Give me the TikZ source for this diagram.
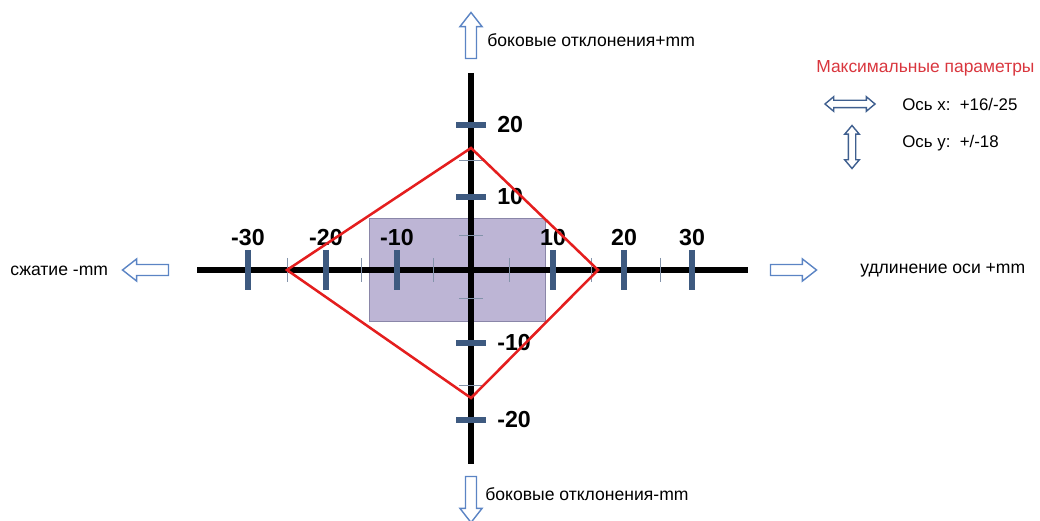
\documentclass[tikz,border=0pt]{standalone}
\usepackage{fontspec}
\setmainfont{Liberation Sans}
\usetikzlibrary{shapes.arrows}
\definecolor{tickblue}{HTML}{3E5A80}
\definecolor{minorgray}{HTML}{8393AA}
\definecolor{arrowblue}{HTML}{5B84C4}
\definecolor{legblue}{HTML}{3F5F8F}
\definecolor{rectfill}{HTML}{BDB5D5}
\definecolor{rectline}{HTML}{8A86A8}
\definecolor{maxred}{HTML}{E41E1E}
\definecolor{titlered}{HTML}{D9363E}
\tikzset{
  axisline/.style={line width=3.6pt,black},
  majtick/.style={line width=3.6pt,tickblue},
  mintick/.style={line width=0.6pt,minorgray},
  maxline/.style={line width=1.8pt,maxred,line join=miter},
  ticklabel/.style={font=\fontsize{16.5}{18}\selectfont\bfseries,inner sep=0pt},
  dirarrow/.style={single arrow,draw=arrowblue,fill=white,line width=1pt,inner sep=0pt,
    minimum height=11.5mm,single arrow head extend=1.4mm,single arrow tip angle=76},
  legarrow/.style={double arrow,draw=legblue,fill=white,line width=1pt,inner sep=0pt,
    double arrow head extend=0.9mm,double arrow tip angle=80},
  dirtext/.style={font=\fontsize{12.5}{14}\selectfont,inner sep=0pt,anchor=west},
}
\newcommand{\shaft}[1]{\rule{0pt}{#1}}
\begin{document}
\begin{tikzpicture}[x=0.25mm,y=-0.25mm]
\useasboundingbox (0,0) rectangle (1040,521);
% zone of allowed offsets
\draw[rectline,fill=rectfill] (369,218) rectangle (545,321);
\draw[axisline] (197,270) -- (748,270);
\draw[axisline] (471,73) -- (471,464);
\foreach \x in {287,361,433,509,591,660}
  \draw[mintick] (\x,258) -- (\x,282);
\foreach \y in {160,235,298,385}
  \draw[mintick] (459,\y) -- (483,\y);
\foreach \x/\v in {248/-30,326/-20,397/-10,553/10,624/20,692/30} {
  \draw[majtick] (\x,250) -- (\x,290);
  \node[ticklabel] (hx\x) at (\x,238) {\v};
}
\foreach \y/\v in {125/20,197/10,343/-10,420/-20} {
  \draw[majtick] (456,\y) -- (486,\y);
  \node[ticklabel,anchor=west] (vy\y) at (497,\y) {\v};
}
\draw[maxline] (287,270) -- (471,148) -- (598,270) -- (471,398) -- cycle;
% directions
\node[dirarrow,rotate=90] (up) at (471,39) {\shaft{2.4mm}};
\node[dirtext] (uptext) at (487,40) {боковые отклонения+mm};
\node[dirarrow,rotate=-90] (down) at (471,496) {\shaft{2.4mm}};
\node[dirtext] (downtext) at (485,494) {боковые отклонения-mm};
\node[dirarrow,rotate=180] (left) at (149,270) {\shaft{2.4mm}};
\node[dirtext] (lefttext) at (10,271) {сжатие -mm};
\node[dirarrow] (right) at (790,270) {\shaft{2.4mm}};
\node[dirtext] (righttext) at (860,270) {удлинение оси +mm};
% legend
\node[dirtext,text=titlered,font=\fontsize{12.4}{14}\selectfont] (title) at (816,68) {Максимальные параметры};
\node[legarrow,minimum height=12.5mm] (legx) at (850,104) {\shaft{1.5mm}};
\node[legarrow,minimum height=10.75mm,rotate=90] (legy) at (852,147) {\shaft{1.5mm}};
\node[dirtext,font=\fontsize{12}{14}\selectfont] (legxtext) at (902,104) {Ось x:\ \ +16/-25};
\node[dirtext,font=\fontsize{12}{14}\selectfont] (legytext) at (902,143) {Ось y:\ \ +/-18};
\end{tikzpicture}
\end{document}
